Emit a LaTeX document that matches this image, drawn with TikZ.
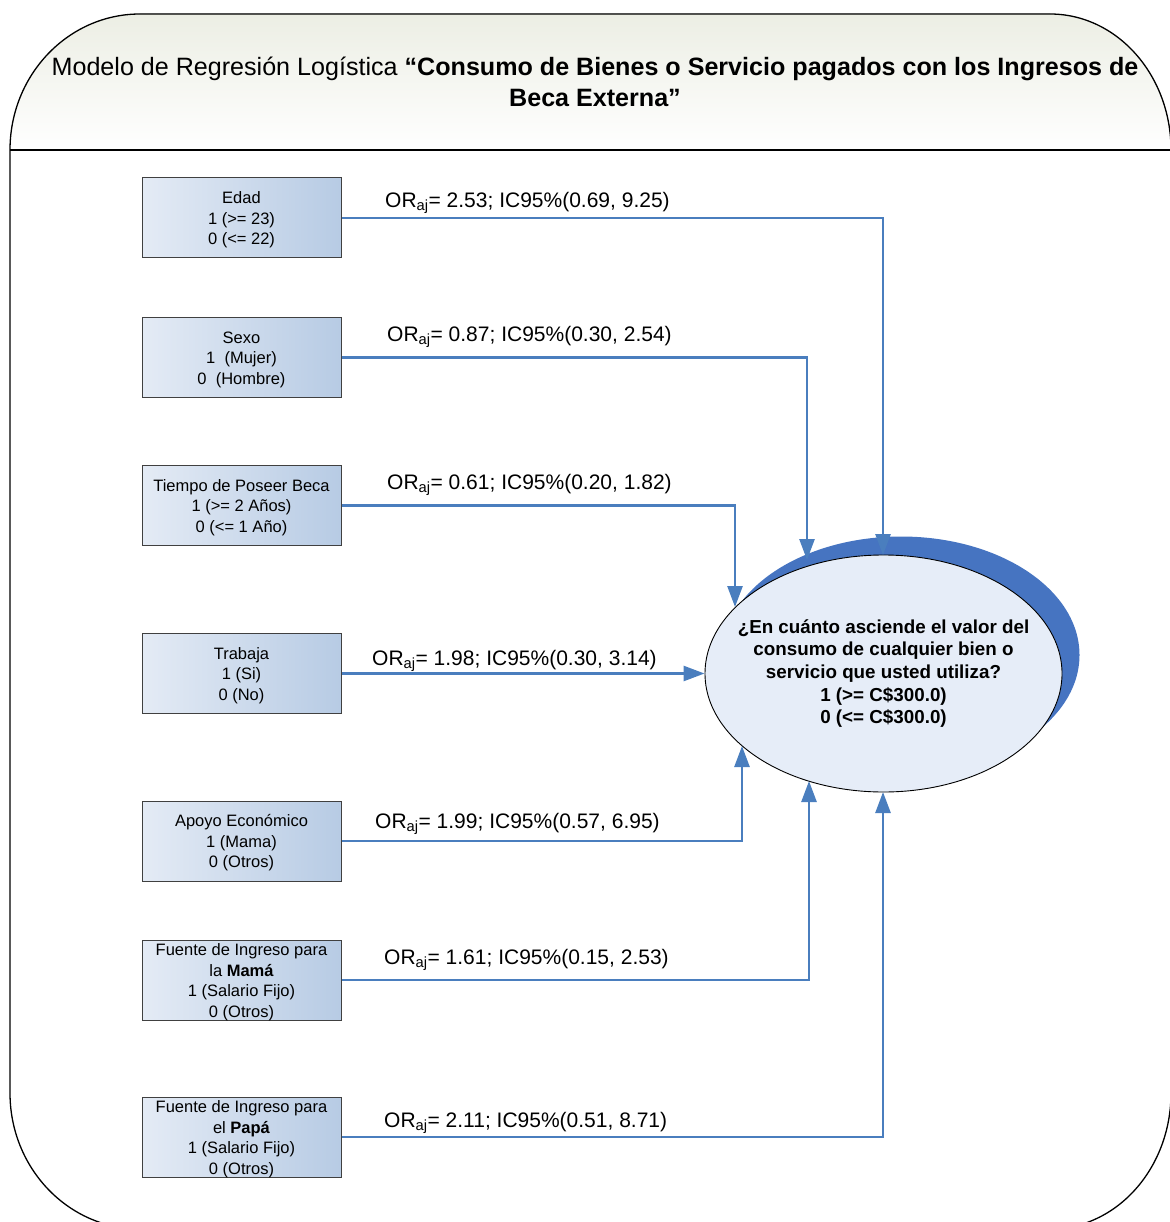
\documentclass[tikz,border=0pt]{standalone}
\usepackage{fontspec}
\setmainfont{Liberation Sans}
\usetikzlibrary{arrows.meta,shapes.geometric}
\definecolor{lineblue}{RGB}{74,126,190}
\definecolor{shadowblue}{RGB}{70,116,193}
\definecolor{boxL}{RGB}{228,235,245}
\definecolor{boxR}{RGB}{183,203,228}
\definecolor{ellfill}{RGB}{230,237,248}
\definecolor{headtop}{RGB}{236,238,228}
\begin{document}
\begin{tikzpicture}[x=1pt,y=-1pt,
  varbox/.style={draw=black!75, line width=1pt, left color=boxL, right color=boxR,
    minimum width=199pt, minimum height=80pt, inner sep=0pt, align=center,
    font=\fontsize{16.5}{20.5}\selectfont},
  boxtext/.style={inner sep=0pt, align=center, font=\fontsize{16.5}{20.5}\selectfont, yshift=-2pt},
  lbl/.style={anchor=west, inner sep=0pt, font=\fontsize{21}{25}\selectfont},
  conn/.style={draw=lineblue, line width=2.6pt, -{Triangle[length=21pt,width=15pt]}}]
\useasboundingbox (0,0) rectangle (1169,1222);
% header band
\fill[top color=headtop, bottom color=white]
  (10,150) arc[start angle=180,end angle=270,x radius=130,y radius=136]
  -- (1050,14) arc[start angle=270,end angle=360,x radius=121,y radius=136] -- cycle;
% frame
\draw[line width=1.3pt]
  (10,150) arc[start angle=180,end angle=270,x radius=130,y radius=136]
  -- (1050,14) arc[start angle=270,end angle=360,x radius=121,y radius=136]
  -- (1171,1093) arc[start angle=0,end angle=90,x radius=121,y radius=136]
  -- (140,1229) arc[start angle=90,end angle=180,x radius=130,y radius=136] -- cycle;
\draw[line width=1.3pt] (10,150) -- (1171,150);
% title
\node[align=center, inner sep=0pt, font=\fontsize{25.1}{31}\selectfont] (title) at (595,82)
  {Modelo de Regresión Logística \textbf{“Consumo de Bienes o Servicio pagados con los Ingresos de}\\ \textbf{Beca Externa”}};
% variable boxes
\node[varbox] (edad) at (241.5,218) {};
\node[varbox] (sexo) at (241.5,357.5) {};
\node[varbox] (tiempo) at (241.5,505.5) {};
\node[varbox] (trab) at (241.5,673.5) {};
\node[varbox] (apoyo) at (241.5,841) {};
\node[varbox] (mama) at (241.5,980) {};
\node[varbox] (papa) at (241.5,1137) {};
\node[boxtext] (edadT) at (edad.center) {Edad\\1 (>= 23)\\0 (<= 22)};
\node[boxtext] (sexoT) at (sexo.center) {Sexo\\1~~(Mujer)\\0~~(Hombre)};
\node[boxtext] (tiempoT) at (tiempo.center) {Tiempo de Poseer Beca\\1 (>= 2 Años)\\0 (<= 1 Año)};
\node[boxtext] (trabT) at (trab.center) {Trabaja\\1 (Si)\\0 (No)};
\node[boxtext] (apoyoT) at (apoyo.center) {Apoyo Económico\\1 (Mama)\\0 (Otros)};
\node[boxtext] (mamaT) at (mama.center) {Fuente de Ingreso para\\la \textbf{Mamá}\\1 (Salario Fijo)\\0 (Otros)};
\node[boxtext] (papaT) at (papa.center) {Fuente de Ingreso para\\el \textbf{Papá}\\1 (Salario Fijo)\\0 (Otros)};
% outcome ellipse with shadow
\fill[shadowblue] (901,655) ellipse[x radius=178.5, y radius=118.5];
\node[ellipse, draw=black, line width=0.9pt, fill=ellfill, minimum width=357pt,
  minimum height=237pt, inner sep=0pt] (out) at (883.5,673.5) {};
\node[inner sep=0pt, align=center, font=\bfseries\fontsize{18.8}{22.7}\selectfont] (outT) at (out.center)
  {¿En cuánto asciende el valor del\\consumo de cualquier bien o\\servicio que usted utiliza?\\1 (>= C\$300.0)\\0 (<= C\$300.0)};
% arrow targets on the ellipse border
\coordinate (tE) at (883,555);
\coordinate (tS) at (807,560);
\coordinate (tT) at (735,607);
\coordinate (tA) at (742,746);
\coordinate (tM) at (809,781);
\coordinate (tP) at (883,792);
% connectors
\draw[conn] (edad.east) -| (tE);
\draw[conn] (sexo.east) -| (tS);
\draw[conn] (tiempo.east) -| (tT);
\draw[conn] (trab.east) -- (out.west);
\draw[conn] (apoyo.east) -| (tA);
\draw[conn] (mama.east) -| (tM);
\draw[conn] (papa.east) -| (tP);
% labels
\node[lbl] (lE) at (385,203) {OR\textsubscript{aj}= 2.53; IC95\%(0.69, 9.25)};
\node[lbl] (lS) at (387,337) {OR\textsubscript{aj}= 0.87; IC95\%(0.30, 2.54)};
\node[lbl] (lT) at (387,485) {OR\textsubscript{aj}= 0.61; IC95\%(0.20, 1.82)};
\node[lbl] (lW) at (372,661) {OR\textsubscript{aj}= 1.98; IC95\%(0.30, 3.14)};
\node[lbl] (lA) at (375,824) {OR\textsubscript{aj}= 1.99; IC95\%(0.57, 6.95)};
\node[lbl] (lM) at (384,960) {OR\textsubscript{aj}= 1.61; IC95\%(0.15, 2.53)};
\node[lbl] (lP) at (384,1123) {OR\textsubscript{aj}= 2.11; IC95\%(0.51, 8.71)};
\end{tikzpicture}
\end{document}
